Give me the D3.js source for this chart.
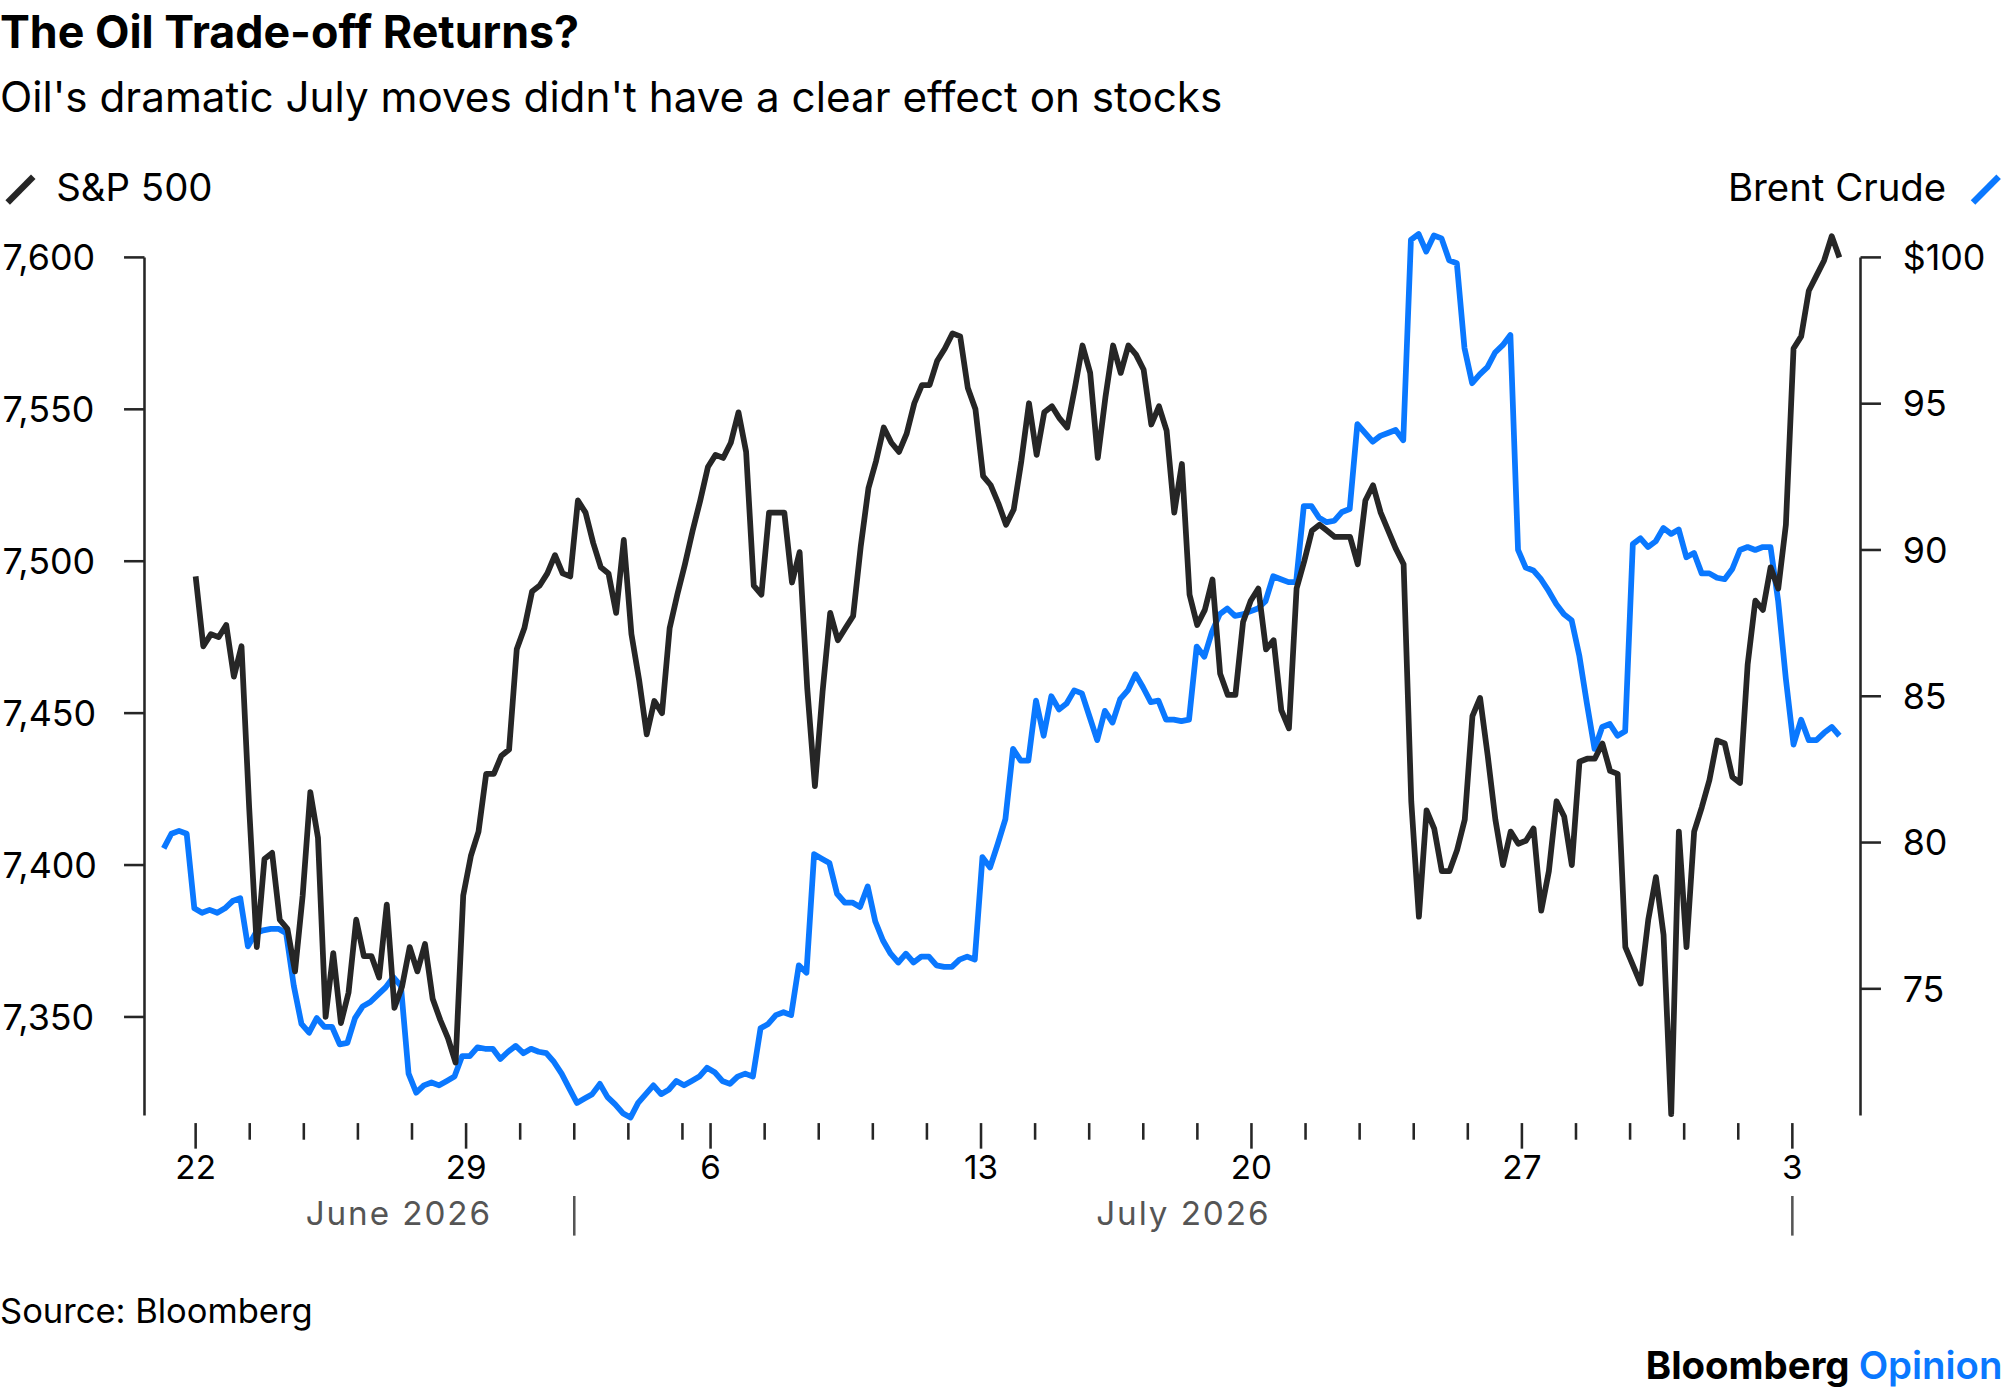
<!DOCTYPE html>
<html><head><meta charset="utf-8">
<script src="https://cdn.jsdelivr.net/npm/d3@7"></script>
<style>body{margin:0;background:#fff}svg{display:block}text{font-family:Inter,"Noto Sans",sans-serif}</style>
</head><body><div id="chart"></div>
<script>
// x is measured in trading days from Mon Jun 22 2026 (Jul 3 holiday is half width)
var spStart=0, spEnd=30.39, oilStart=-0.59, oilEnd=30.39;
var spx=[7495,7472,7476,7475,7479,7462,7472,7419,7373,7402,7404,7382,7379,7365,7390,7424,7409,7350,7371,7348,7358,7382,7370,7370,7363,7387,7353,7360,7373,7365,7374,7356,7349,7343,7335,7390,7403,7411,7430,7430,7436,7438,7471,7478,7490,7492,7496,7502,7496,7495,7520,7516,7506,7498,7496,7483,7507,7476,7461,7443,7454,7450,7478,7489,7499,7510,7520,7531,7535,7534,7539,7549,7536,7492,7489,7516,7516,7516,7493,7503,7458,7426,7457,7483,7474,7478,7482,7505,7524,7533,7544,7539,7536,7542,7552,7558,7558,7566,7570,7575,7574,7557,7550,7528,7525,7519,7512,7517,7533,7552,7535,7549,7551,7547,7544,7557,7571,7562,7534,7554,7571,7562,7571,7568,7563,7545,7551,7543,7516,7532,7489,7479,7484,7494,7463,7456,7456,7480,7487,7491,7471,7474,7451,7445,7491,7500,7510,7512,7510,7508,7508,7508,7499,7520,7525,7516,7510,7504,7499,7421,7383,7418,7412,7398,7398,7405,7415,7449,7455,7436,7415,7400,7411,7407,7408,7412,7385,7398,7421,7416,7400,7434,7435,7435,7440,7431,7430,7373,7367,7361,7382,7396,7377,7318,7411,7373,7411,7419,7428,7441,7440,7429,7427,7466,7487,7484,7498,7491,7512,7570,7574,7589,7594,7599,7607,7600];
var brent=[79.8,80.3,80.4,80.3,77.75,77.6,77.7,77.6,77.75,78.0,78.1,76.45,76.9,77.0,77.05,77.05,76.9,75.1,73.8,73.5,74.0,73.7,73.7,73.1,73.15,74.0,74.4,74.55,74.8,75.05,75.4,75.1,72.1,71.45,71.7,71.8,71.7,71.85,72.0,72.7,72.7,73.0,72.95,72.95,72.6,72.85,73.05,72.8,72.95,72.85,72.8,72.5,72.1,71.6,71.1,71.25,71.4,71.75,71.3,71.05,70.75,70.6,71.1,71.4,71.7,71.4,71.55,71.85,71.7,71.85,72.0,72.3,72.15,71.85,71.75,72.0,72.1,72.0,73.65,73.8,74.1,74.2,74.1,75.8,75.55,79.6,79.45,79.3,78.25,77.95,77.95,77.8,78.5,77.3,76.65,76.2,75.9,76.2,75.9,76.1,76.1,75.8,75.75,75.75,76.0,76.1,76.0,79.5,79.15,79.95,80.8,83.2,82.8,82.8,84.85,83.65,85.0,84.55,84.75,85.2,85.1,84.3,83.5,84.5,84.1,84.9,85.2,85.75,85.3,84.8,84.85,84.2,84.2,84.15,84.2,86.7,86.35,87.2,87.8,88.0,87.75,87.8,87.9,88.0,88.25,89.1,89.0,88.9,88.9,91.5,91.5,91.1,90.95,91.0,91.3,91.4,94.3,94.0,93.7,93.9,94.0,94.1,93.75,100.6,100.8,100.2,100.75,100.65,99.9,99.8,96.9,95.7,96.0,96.25,96.75,97.0,97.35,90.0,89.4,89.3,89.0,88.6,88.15,87.8,87.6,86.4,84.75,83.2,83.95,84.05,83.65,83.8,90.2,90.4,90.1,90.3,90.75,90.55,90.7,89.75,89.9,89.2,89.2,89.05,89.0,89.35,90.0,90.1,90.0,90.1,90.1,88.25,85.6,83.35,84.2,83.5,83.5,83.75,83.95,83.65];
var dayTicks=[0,1,2,3,4,5,6,7,8,9,9.52,10.52,11.52,12.52,13.52,14.52,15.52,16.52,17.52,18.52,19.52,20.52,21.52,22.52,23.52,24.52,25.52,26.52,27.52,28.52,29.52];
var dayLabels={0:"22",5:"29",10:"6",15:"13",20:"20",25:"27",30:"3"};
var spTicks=[7350,7400,7450,7500,7550,7600];
var oilTicks=[75,80,85,90,95,100];
var months=[{name:"June 2026",from:-1,to:7},{name:"July 2026",from:7,to:29.52}];

var W=1568,H=1088;
var svg=d3.select("#chart").append("svg").attr("width",2005).attr("height",1392).attr("viewBox","0 0 "+W+" "+H);
var x=d3.scaleLinear().domain([0,1]).range([153,195.3]);
var ySp=d3.scaleLinear().domain([7350,7600]).range([795,201]);
var yOil=d3.scaleLinear().domain([75,100]).range([773,201]);
var black="#262626",blue="#0a78ff";

svg.append("text").attr("x",0).attr("y",37).attr("font-size",35).attr("font-weight",700).text("The Oil Trade-off Returns?");
svg.append("text").attr("x",0).attr("y",87).attr("font-size",33).text("Oil's dramatic July moves didn't have a clear effect on stocks");

// legend
svg.append("line").attr("x1",6).attr("y1",158).attr("x2",26).attr("y2",138).attr("stroke",black).attr("stroke-width",5);
svg.append("text").attr("x",44).attr("y",157).attr("font-size",30).text("S&P 500");
svg.append("text").attr("x",1522).attr("y",157).attr("font-size",30).attr("text-anchor","end").text("Brent Crude");
svg.append("line").attr("x1",1543).attr("y1",158).attr("x2",1563).attr("y2",138).attr("stroke",blue).attr("stroke-width",5);

// axes
svg.append("line").attr("x1",113).attr("x2",113).attr("y1",201).attr("y2",872).attr("stroke",black).attr("stroke-width",2);
svg.append("line").attr("x1",1455).attr("x2",1455).attr("y1",201).attr("y2",872).attr("stroke",black).attr("stroke-width",2);
spTicks.forEach(function(t){
  svg.append("line").attr("x1",97).attr("x2",113).attr("y1",ySp(t)).attr("y2",ySp(t)).attr("stroke",black).attr("stroke-width",2);
  svg.append("text").attr("x",2).attr("y",ySp(t)+10).attr("font-size",28).text(d3.format(",")(t));
});
oilTicks.forEach(function(t){
  svg.append("line").attr("x1",1455).attr("x2",1471).attr("y1",yOil(t)).attr("y2",yOil(t)).attr("stroke",black).attr("stroke-width",2);
  svg.append("text").attr("x",1488).attr("y",yOil(t)+10).attr("font-size",28).text(t==100?"$100":t);
});
dayTicks.forEach(function(t,i){
  var lab=dayLabels[i];
  svg.append("line").attr("x1",x(t)).attr("x2",x(t)).attr("y1",878).attr("y2",lab?898:891).attr("stroke",black).attr("stroke-width",2);
  if(lab) svg.append("text").attr("x",x(t)).attr("y",922).attr("font-size",26).attr("text-anchor","middle").text(lab);
});
months.forEach(function(m){
  svg.append("text").attr("x",(x(m.from)+x(m.to))/2+(m.name[1]=="u"&&m.name[2]=="n"?32:0)).attr("y",958).attr("font-size",26).attr("fill","#555").attr("letter-spacing",1.5).attr("text-anchor","middle").text(m.name);
});
[7,29.52].forEach(function(t){
  svg.append("line").attr("x1",x(t)).attr("x2",x(t)).attr("y1",935).attr("y2",966).attr("stroke","#555").attr("stroke-width",2);
});

// lines
var xs=d3.scaleLinear().domain([0,spx.length-1]).range([spStart,spEnd]);
var xo=d3.scaleLinear().domain([0,brent.length-1]).range([oilStart,oilEnd]);
svg.append("path").datum(brent).attr("fill","none").attr("stroke",blue).attr("stroke-width",4.5).attr("stroke-linejoin","round")
  .attr("d",d3.line().x(function(d,i){return x(xo(i))}).y(function(d){return yOil(d)}));
svg.append("path").datum(spx).attr("fill","none").attr("stroke",black).attr("stroke-width",4.5).attr("stroke-linejoin","round")
  .attr("d",d3.line().x(function(d,i){return x(xs(i))}).y(function(d){return ySp(d)}));

svg.append("text").attr("x",0).attr("y",1034).attr("font-size",27).text("Source: Bloomberg");
var b=svg.append("text").attr("x",1566).attr("y",1078).attr("font-size",30).attr("font-weight",700).attr("text-anchor","end");
b.append("tspan").text("Bloomberg ");
b.append("tspan").attr("fill",blue).attr("font-weight",600).text("Opinion");
</script></body></html>
